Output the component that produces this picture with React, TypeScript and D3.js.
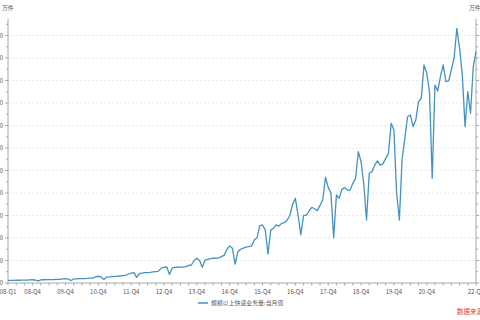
import React from "react";
import * as d3 from "d3";

// 规模以上快递业务量:当月值 (万件), monthly from 2008-03 to 2022-06
const startYear = 2008;
const startMonth = 3;

const volume2008 = [11500, 11800, 12000, 12200, 12300, 12600, 13000, 13000, 13800, 14500];
const volume2009 = [12500, 9000, 14000, 14500, 14800, 15000, 15200, 15500, 16500, 16000, 18000, 19500];
const volume2010 = [17500, 11000, 18000, 18500, 19000, 19500, 19800, 20500, 22000, 22000, 27000, 30000];
const volume2011 = [27000, 16000, 26000, 27000, 28500, 29000, 30000, 31500, 33000, 33500, 40000, 44000];
const volume2012 = [46000, 25000, 42000, 44000, 46000, 46500, 47000, 49000, 51000, 53000, 66000, 70000];
const volume2013 = [72000, 38000, 66000, 69000, 70000, 70500, 71000, 72500, 78000, 80000, 100000, 110000];
const volume2014 = [100000, 70000, 102000, 105000, 108000, 110000, 110000, 112000, 117000, 124000, 150000, 165000];
const volume2015 = [154000, 84000, 139000, 150000, 155000, 160000, 162000, 165000, 191000, 201000, 255000, 258000];
const volume2016 = [236000, 129000, 235000, 243000, 258000, 253000, 265000, 268000, 280000, 300000, 350000, 376000];
const volume2017 = [300000, 215000, 300000, 302000, 320000, 336000, 330000, 321000, 345000, 370000, 470000, 425000];
const volume2018 = [400000, 201000, 391000, 376000, 416000, 424000, 413000, 413000, 443000, 465000, 584000, 539000];
const volume2019 = [440000, 280000, 488000, 495000, 524000, 543000, 524000, 529000, 554000, 576000, 710000, 680000];
const volume2020 = [400000, 280000, 550000, 643000, 739000, 747000, 695000, 724000, 806000, 821000, 969000, 932000];
const volume2021 = [850000, 465000, 880000, 853000, 917000, 969000, 895000, 898000, 947000, 999000, 1132000, 1043000];
const volume2022 = [924000, 695000, 850000, 754000, 961000, 1028000];

const volume = [
  ...volume2008, ...volume2009, ...volume2010, ...volume2011, ...volume2012,
  ...volume2013, ...volume2014, ...volume2015, ...volume2016, ...volume2017,
  ...volume2018, ...volume2019, ...volume2020, ...volume2021, ...volume2022,
];

const tickLabels = ["08-Q1", "08-Q4", "09-Q4", "10-Q4", "11-Q4", "12-Q4", "13-Q4", "14-Q4", "15-Q4", "16-Q4", "17-Q4", "18-Q4", "19-Q4", "20-Q4", "22-Q2"];
const tickMonths = ["2008-03", "2008-12", "2009-12", "2010-12", "2011-12", "2012-12", "2013-12", "2014-12", "2015-12", "2016-12", "2017-12", "2018-12", "2019-12", "2020-12", "2022-06"];

const yMajor = d3.range(0, 1100001, 100000);
const yMinor = d3.range(50000, 1150001, 100000);

const seriesName = "规模以上快递业务量:当月值";
const unitLabel = "万件";
const sourceLabel = "数据来源：Wind";

const monthIndex = (s: string) => {
  const [y, m] = s.split("-").map(Number);
  return (y - startYear) * 12 + (m - startMonth);
};

const W = 480;
const H = 320;
const left = 8;
const right = 476;
const bottom = 283;
const top = 13;
const FONT = "'Noto Sans CJK SC', 'Noto Sans', sans-serif";
const LINE = "#4592bf";
const AXIS = "#a8a8a8";
const TEXT = "#555";

export default function App() {
  const x = d3.scaleLinear().domain([0, volume.length - 1]).range([left, right]);
  const y = d3.scaleLinear().domain([0, 1200000]).range([bottom, top]);
  const line = d3
    .line<number>()
    .x((_, i) => x(i))
    .y((d) => y(d));
  const quarterTicks = d3.range(0, volume.length, 3);

  return (
    <svg
      width={W}
      height={H}
      style={{ position: "absolute", left: 0, top: 0, background: "#fff" }}
      fontFamily={FONT}
    >
      {/* gridlines */}
      {yMajor.filter((v) => v > 0).map((v) => (
        <line key={"g" + v} x1={left} x2={right} y1={y(v)} y2={y(v)} stroke="#e2e2e2" strokeWidth={0.8} strokeDasharray="2,2" />
      ))}

      {/* left axis */}
      <line x1={left} x2={left} y1={y(1175000)} y2={bottom} stroke={AXIS} strokeWidth={1} />
      {yMajor.map((v) => (
        <g key={"l" + v}>
          <line x1={left - 3} x2={left} y1={y(v)} y2={y(v)} stroke={AXIS} />
          <text x={3} y={y(v)} dy="0.35em" textAnchor="end" fontSize={6} fill={TEXT}>
            {d3.format(",")(v)}
          </text>
        </g>
      ))}
      {yMinor.map((v) => (
        <line key={"lm" + v} x1={left - 2} x2={left} y1={y(v)} y2={y(v)} stroke={AXIS} />
      ))}

      {/* right axis */}
      <line x1={right} x2={right} y1={y(1175000)} y2={bottom} stroke={AXIS} strokeWidth={1} />
      {yMajor.map((v) => (
        <g key={"r" + v}>
          <line x1={right} x2={right + 3} y1={y(v)} y2={y(v)} stroke={AXIS} />
          <text x={right + 5} y={y(v)} dy="0.35em" textAnchor="start" fontSize={6} fill={TEXT}>
            {d3.format(",")(v)}
          </text>
        </g>
      ))}
      {yMinor.map((v) => (
        <line key={"rm" + v} x1={right} x2={right + 2} y1={y(v)} y2={y(v)} stroke={AXIS} />
      ))}

      {/* x axis */}
      <line x1={left} x2={right} y1={bottom} y2={bottom} stroke={AXIS} strokeWidth={1} />
      {quarterTicks.map((i) => (
        <line key={"q" + i} x1={x(i)} x2={x(i)} y1={bottom} y2={bottom + 2.5} stroke={AXIS} />
      ))}
      {tickLabels.map((t, k) => (
        <text key={t} x={x(monthIndex(tickMonths[k]))} y={294} textAnchor="middle" fontSize={6} fill={TEXT}>
          {t}
        </text>
      ))}

      {/* series */}
      <path d={line(volume) || ""} fill="none" stroke={LINE} strokeWidth={1.3} strokeLinejoin="round" />

      {/* unit labels */}
      <text x={2} y={10} fontSize={5.8} fill={TEXT}>{unitLabel}</text>
      <text x={469} y={10} fontSize={5.8} fill={TEXT}>{unitLabel}</text>

      {/* legend */}
      <line x1={198} x2={208} y1={303} y2={303} stroke={LINE} strokeWidth={1.5} />
      <text x={211} y={303} dy="0.35em" fontSize={5.9} fill={TEXT}>{seriesName}</text>

      {/* source */}
      <text x={457} y={314} fontSize={6.5} fill="#e23b3b">{sourceLabel}</text>
    </svg>
  );
}
